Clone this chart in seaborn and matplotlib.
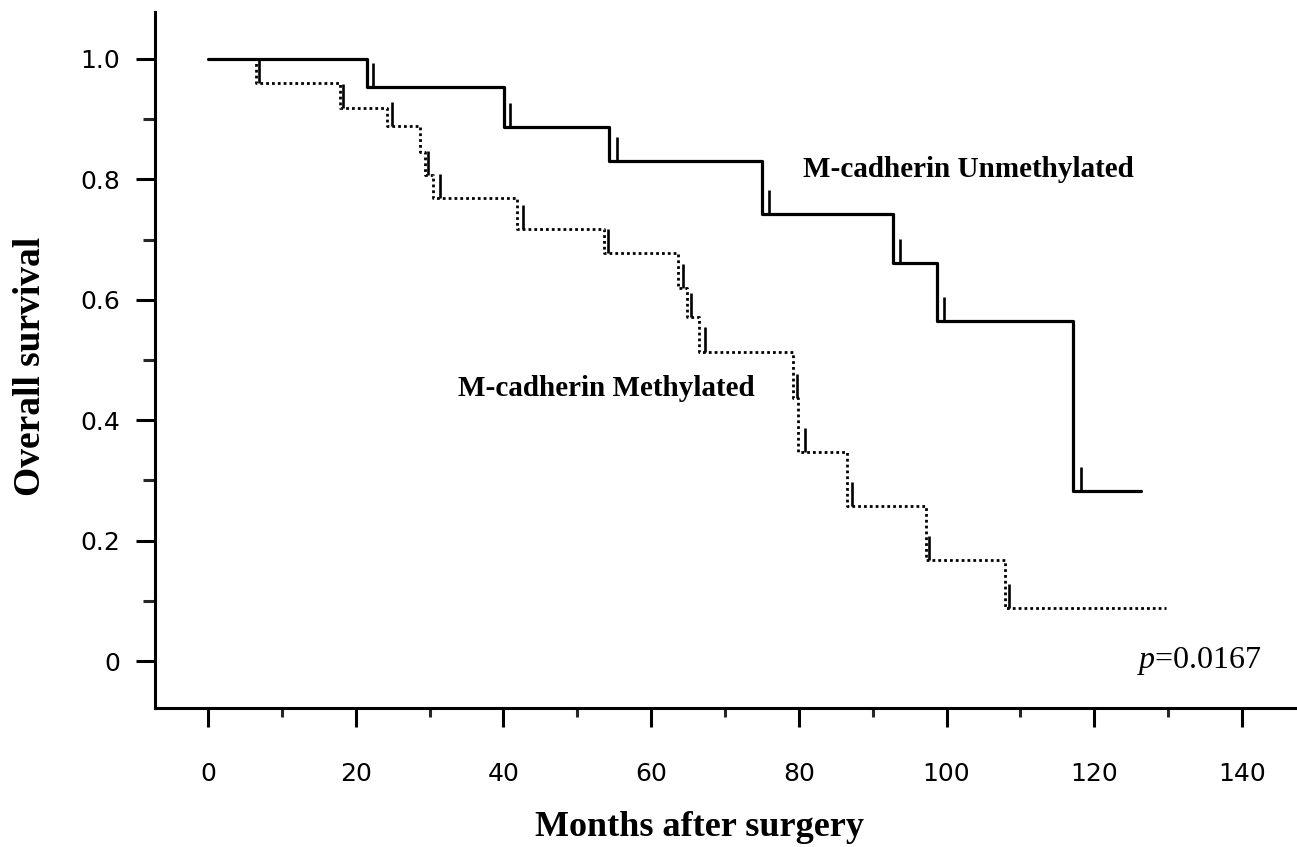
import numpy as np
import pandas as pd
import matplotlib
matplotlib.use("Agg")
import matplotlib.pyplot as plt
import seaborn as sns

# --- Kaplan-Meier curves ---
# unmethylated group (solid line)
unmeth_time = [0, 21.5, 40.1, 54.3, 75.0, 92.7, 98.7, 117.1, 126.3]
unmeth_surv = [1.0, 0.953, 0.887, 0.831, 0.743, 0.661, 0.565, 0.282, 0.282]
unmeth_censor = [22.3, 40.9, 55.4, 76.0, 93.7, 99.6, 118.2]

# methylated group (dotted line)
meth_time = [0, 6.5, 17.9, 24.2, 28.7, 29.4, 30.5, 41.8, 53.6, 63.6, 64.9,
             66.5, 79.2, 79.9, 86.5, 97.2, 107.9, 129.7]
meth_surv = [1.0, 0.960, 0.918, 0.889, 0.845, 0.807, 0.769, 0.717, 0.678,
             0.620, 0.572, 0.514, 0.437, 0.347, 0.257, 0.168, 0.088, 0.088]
meth_censor = [6.9, 18.3, 24.9, 29.8, 31.4, 42.7, 54.2, 64.3, 65.4, 67.3,
               79.7, 80.8, 87.2, 97.6, 108.5]

x_ticks = [0, 20, 40, 60, 80, 100, 120, 140]
y_ticks = [0, 0.2, 0.4, 0.6, 0.8, 1.0]
y_tick_labels = ["0", "0.2", "0.4", "0.6", "0.8", "1.0"]
p_value = "0.0167"


def step_value(times, surv, t):
    idx = np.searchsorted(times, t, side="right") - 1
    return np.asarray(surv)[idx]


sns.set_theme(style="ticks")
plt.rcParams["font.family"] = ["DejaVu Sans"]
plt.rcParams["text.color"] = "black"
plt.rcParams["mathtext.fontset"] = "custom"
plt.rcParams["mathtext.it"] = "Liberation Serif:italic"
plt.rcParams["mathtext.rm"] = "Liberation Serif"

fig = plt.figure(figsize=(12.97, 8.47), dpi=100)
ax = fig.add_axes([155 / 1297, 1 - 708 / 847, 1140 / 1297, 696 / 847])

df_u = pd.DataFrame({"time": unmeth_time, "surv": unmeth_surv})
df_m = pd.DataFrame({"time": meth_time, "surv": meth_surv})

sns.lineplot(data=df_u, x="time", y="surv", drawstyle="steps-post",
             color="black", lw=2.3, estimator=None, sort=False, ax=ax)
sns.lineplot(data=df_m, x="time", y="surv", drawstyle="steps-post",
             color="black", lw=2.0, linestyle=(0, (1, 1.1)),
             estimator=None, sort=False, ax=ax)

# censor marks: short vertical ticks rising from the curve
tick_h = 0.04
cu = step_value(unmeth_time, unmeth_surv, unmeth_censor)
cm = step_value(meth_time, meth_surv, meth_censor)
ax.vlines(unmeth_censor, cu, cu + tick_h, color="black", lw=1.9)
ax.vlines(meth_censor, cm, cm + tick_h, color="black", lw=1.9)

ax.set_xlim(-7.2, 147.2)
ax.set_ylim(-0.078, 1.078)
ax.set_xticks(x_ticks)
ax.set_xticks(np.arange(10, 140, 20), minor=True)
ax.set_yticks(y_ticks)
ax.set_yticklabels(y_tick_labels)
ax.set_yticks(np.arange(0.1, 1.0, 0.2), minor=True)

ax.tick_params(axis="x", which="major", length=14, width=2.2, pad=25,
               labelsize=18, color="black", labelcolor="black")
ax.tick_params(axis="x", which="minor", length=6.5, width=2.2)
ax.tick_params(axis="y", which="major", length=14, width=2.2, pad=11,
               labelsize=18, color="black", labelcolor="black")
ax.tick_params(axis="y", which="minor", length=8.5, width=2.2)

for s in ["left", "bottom"]:
    ax.spines[s].set_linewidth(2.2)
    ax.spines[s].set_color("black")
sns.despine(ax=ax)

serif = ["Liberation Serif", "DejaVu Serif"]
ax.set_xlabel("Months after surgery", fontsize=26, fontweight="bold",
              family=serif, color="black")
ax.set_ylabel("Overall survival", fontsize=27, fontweight="bold",
              family=serif, color="black")
ax.xaxis.set_label_coords(0.478, -0.148)
ax.yaxis.set_label_coords(-0.094, 0.491)

ax.text(80.6, 0.817, "M-cadherin Unmethylated", fontsize=21,
        fontweight="bold", family=serif, ha="left", va="center",
        color="black")
ax.text(33.8, 0.453, "M-cadherin Methylated", fontsize=21,
        fontweight="bold", family=serif, ha="left", va="center",
        color="black")
ax.text(142.7, 0.0, r"$p$=" + p_value, fontsize=23, family=serif,
        ha="right", va="center", color="black")

fig.savefig("out.png", dpi=100)
